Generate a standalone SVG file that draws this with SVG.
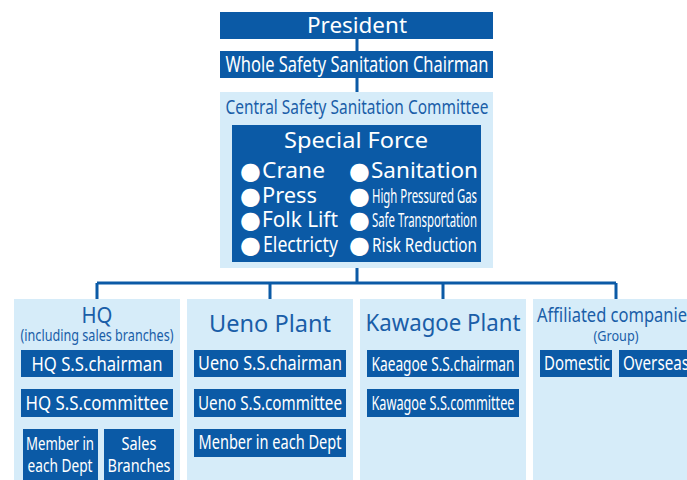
<svg xmlns="http://www.w3.org/2000/svg" width="687" height="480" viewBox="0 0 687 480">
<style>
.dk{fill:#0b5aa6}
.lt{fill:#d6ecf9}
text{font-family:"Noto Sans","DejaVu Sans",sans-serif}
.w{fill:#ffffff}
.b{fill:#1a5ea8}
.m{text-anchor:middle}
.bu{font-family:"DejaVu Sans",sans-serif;font-size:24px;fill:#ffffff}
.ln{stroke:#0b5aa6;stroke-width:3;fill:none}
</style>
<rect width="687" height="480" fill="#ffffff"/>
<g id="connectors">
<path class="ln" d="M357 39V51M357 78V92M357 262V283M97 283H616M97 283V299M270 283V299M443 283V299M616 283V299"/>
<path class="ln" d="M97 377V389M97 417V422M59 422H139M59 422V429M139 422V429"/>
<path class="ln" d="M270 377V389M270 417V429"/>
<path class="ln" d="M443 377V389"/>
</g>
<g id="president">
<rect class="dk" x="220" y="12" width="273" height="27"/>
<text class="w m" x="357" y="33" font-size="22" textLength="100" lengthAdjust="spacingAndGlyphs">President</text>
</g>
<g id="chairman">
<rect class="dk" x="220" y="51" width="273" height="27"/>
<text class="w m" x="357" y="72" font-size="21" textLength="263" lengthAdjust="spacingAndGlyphs">Whole Safety Sanitation Chairman</text>
</g>
<g id="central">
<rect class="lt" x="220" y="92" width="273" height="176"/>
<text class="b m" x="357" y="114" font-size="20" textLength="263" lengthAdjust="spacingAndGlyphs">Central Safety Sanitation Committee</text>
</g>
<g id="special-force">
<rect class="dk" x="232" y="125" width="249" height="137"/>
<text class="w m" x="356" y="148" font-size="21" textLength="144" lengthAdjust="spacingAndGlyphs">Special Force</text>
<text class="bu" x="240" y="179">●</text>
<text class="w" x="262" y="178" font-size="21" textLength="63" lengthAdjust="spacingAndGlyphs">Crane</text>
<text class="bu" x="240" y="204">●</text>
<text class="w" x="262" y="203" font-size="21" textLength="55" lengthAdjust="spacingAndGlyphs">Press</text>
<text class="bu" x="240" y="228">●</text>
<text class="w" x="262" y="227" font-size="21" textLength="76" lengthAdjust="spacingAndGlyphs">Folk Lift</text>
<text class="bu" x="240" y="253">●</text>
<text class="w" x="263" y="252" font-size="21" textLength="75" lengthAdjust="spacingAndGlyphs">Electricty</text>
<text class="bu" x="349" y="179">●</text>
<text class="w" x="371" y="178" font-size="21" textLength="107" lengthAdjust="spacingAndGlyphs">Sanitation</text>
<text class="bu" x="349" y="204">●</text>
<text class="w" x="372" y="203" font-size="19" textLength="105" lengthAdjust="spacingAndGlyphs">High Pressured Gas</text>
<text class="bu" x="349" y="228">●</text>
<text class="w" x="372" y="227" font-size="19" textLength="105" lengthAdjust="spacingAndGlyphs">Safe Transportation</text>
<text class="bu" x="349" y="253">●</text>
<text class="w" x="372" y="252" font-size="20" textLength="105" lengthAdjust="spacingAndGlyphs">Risk Reduction</text>
</g>
<g id="hq">
<rect class="lt" x="14" y="299" width="166" height="181"/>
<text class="b m" x="97" y="323" font-size="21" textLength="31" lengthAdjust="spacingAndGlyphs">HQ</text>
<text class="b m" x="97" y="341" font-size="16" textLength="153" lengthAdjust="spacingAndGlyphs">(including sales branches)</text>
</g>
<g id="hq-chairman">
<rect class="dk" x="21" y="350" width="152" height="27"/>
<text class="w m" x="97" y="371" font-size="20" textLength="131" lengthAdjust="spacingAndGlyphs">HQ S.S.chairman</text>
</g>
<g id="hq-committee">
<rect class="dk" x="21" y="389" width="152" height="28"/>
<text class="w m" x="97" y="410" font-size="20" textLength="143" lengthAdjust="spacingAndGlyphs">HQ S.S.committee</text>
</g>
<g id="hq-member">
<rect class="dk" x="23" y="429" width="75" height="51"/>
<text class="w m" x="60" y="450" font-size="18" textLength="68" lengthAdjust="spacingAndGlyphs">Member in</text>
<text class="w m" x="60" y="472" font-size="18" textLength="65" lengthAdjust="spacingAndGlyphs">each Dept</text>
</g>
<g id="hq-sales">
<rect class="dk" x="104" y="429" width="70" height="51"/>
<text class="w m" x="139" y="450" font-size="18" textLength="35" lengthAdjust="spacingAndGlyphs">Sales</text>
<text class="w m" x="139" y="472" font-size="18" textLength="63" lengthAdjust="spacingAndGlyphs">Branches</text>
</g>
<g id="ueno">
<rect class="lt" x="187" y="299" width="166" height="181"/>
<text class="b m" x="270" y="332" font-size="23" textLength="122" lengthAdjust="spacingAndGlyphs">Ueno Plant</text>
</g>
<g id="ueno-chairman">
<rect class="dk" x="194" y="350" width="152" height="27"/>
<text class="w m" x="270" y="370" font-size="19" textLength="144" lengthAdjust="spacingAndGlyphs">Ueno S.S.chairman</text>
</g>
<g id="ueno-committee">
<rect class="dk" x="194" y="389" width="152" height="28"/>
<text class="w m" x="270" y="410" font-size="19" textLength="144" lengthAdjust="spacingAndGlyphs">Ueno S.S.committee</text>
</g>
<g id="ueno-member">
<rect class="dk" x="194" y="429" width="152" height="28"/>
<text class="w m" x="270" y="449" font-size="19" textLength="143" lengthAdjust="spacingAndGlyphs">Menber in each Dept</text>
</g>
<g id="kawagoe">
<rect class="lt" x="360" y="299" width="166" height="181"/>
<text class="b m" x="443" y="331" font-size="23" textLength="155" lengthAdjust="spacingAndGlyphs">Kawagoe Plant</text>
</g>
<g id="kawagoe-chairman">
<rect class="dk" x="367" y="350" width="152" height="27"/>
<text class="w m" x="443" y="371" font-size="19" textLength="143" lengthAdjust="spacingAndGlyphs">Kaeagoe S.S.chairman</text>
</g>
<g id="kawagoe-committee">
<rect class="dk" x="367" y="389" width="152" height="28"/>
<text class="w m" x="443" y="410" font-size="19" textLength="143" lengthAdjust="spacingAndGlyphs">Kawagoe S.S.committee</text>
</g>
<g id="affiliated">
<rect class="lt" x="533" y="299" width="166" height="181"/>
<text class="b m" x="616" y="322" font-size="20" textLength="158" lengthAdjust="spacingAndGlyphs">Affiliated companies</text>
<text class="b m" x="616" y="341" font-size="15" textLength="45" lengthAdjust="spacingAndGlyphs">(Group)</text>
</g>
<g id="domestic">
<rect class="dk" x="540" y="350" width="72" height="27"/>
<text class="w m" x="577" y="370" font-size="19" textLength="66" lengthAdjust="spacingAndGlyphs">Domestic</text>
</g>
<g id="overseas">
<rect class="dk" x="619" y="350" width="74" height="27"/>
<text class="w" x="623" y="370" font-size="19" textLength="66" lengthAdjust="spacingAndGlyphs">Overseas</text>
</g>
</svg>
